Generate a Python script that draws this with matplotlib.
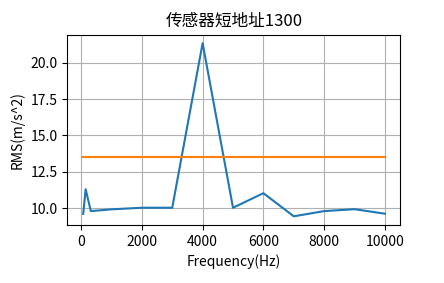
import matplotlib
matplotlib.use('Agg')
import matplotlib.pyplot as plt

plt.rcParams['font.family'] = ['Noto Sans CJK SC', 'DejaVu Sans']
plt.rcParams['axes.unicode_minus'] = False

freq = [70, 150, 320, 1000, 2000, 3000, 4000, 5000, 6000, 7000, 8000, 9000, 10000]
rms = [9.61, 11.3, 9.8, 9.92, 10.03, 10.03, 21.34, 10.03, 11.03, 9.44, 9.8, 9.93, 9.62]
limit_x = [50, 10000]
limit_y = [13.55, 13.55]

fig = plt.figure(figsize=(4.44, 2.83), dpi=100)
ax = fig.add_axes([0.152, 0.205, 0.749, 0.673])
ax.plot(freq, rms)
ax.plot(limit_x, limit_y)
ax.set_title('传感器短地址1300')
ax.set_xlabel('Frequency(Hz)')
ax.set_ylabel('RMS(m/s^2)')
ax.grid(True)
fig.savefig('out.png', dpi=100)
